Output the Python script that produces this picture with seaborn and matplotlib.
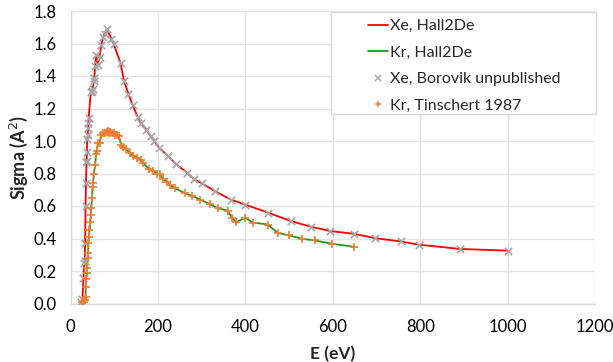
import matplotlib
matplotlib.use("Agg")
import matplotlib.pyplot as plt
from matplotlib.patches import Rectangle
from matplotlib.lines import Line2D
import seaborn as sns
import pandas as pd

# Xenon ionization cross section (Borovik, unpublished), energy in eV, sigma in A^2
xe_energy = [23, 27, 29, 31, 32, 33, 34, 35, 36, 36.5, 37, 38, 39, 40, 40.5, 41,
             46, 48, 50, 53, 54, 56, 58, 62, 66, 70, 74, 78, 83, 93, 98, 114,
             122, 132, 142, 153, 160, 173, 183, 191, 202, 222, 240, 266, 282,
             300, 331, 366, 400, 452, 504, 549, 594, 648, 697, 755, 797, 890, 1002]
xe_sigma = [0.01, 0.03, 0.16, 0.25, 0.26, 0.37, 0.60, 0.74, 0.87, 0.88, 0.93, 1.01,
            1.04, 1.08, 1.11, 1.14, 1.30, 1.31, 1.32, 1.37, 1.39, 1.46, 1.53, 1.47,
            1.52, 1.59, 1.64, 1.66, 1.69, 1.63, 1.60, 1.48, 1.37, 1.29, 1.22, 1.15,
            1.11, 1.07, 1.03, 1.00, 0.96, 0.91, 0.86, 0.805, 0.765, 0.74, 0.69,
            0.64, 0.608, 0.559, 0.507, 0.473, 0.446, 0.429, 0.402, 0.382, 0.362,
            0.336, 0.325]

# Krypton ionization cross section (Tinschert 1987)
kr_energy = [26, 30, 33, 34, 34.5, 35, 36.5, 37, 39, 40, 40.5, 42, 43, 45, 46, 47,
             49, 50, 51, 53, 56, 58, 60, 62, 66, 70, 75, 78, 83, 86, 88, 91, 94,
             98, 102, 105, 110, 116, 120, 127, 136, 142, 151, 160, 165, 179, 188,
             198, 204, 212, 220, 227, 239, 262, 278, 296, 319, 338, 359, 369, 379,
             399, 418, 451, 474, 499, 530, 559, 599, 648]
kr_sigma = [0.01, 0.01, 0.02, 0.04, 0.10, 0.15, 0.19, 0.22, 0.28, 0.31, 0.37, 0.41,
            0.45, 0.50, 0.545, 0.59, 0.65, 0.72, 0.74, 0.80, 0.85, 0.92, 0.94, 0.985,
            0.99, 1.037, 1.047, 1.05, 1.057, 1.06, 1.05, 1.057, 1.047, 1.05, 1.037,
            1.04, 1.03, 0.975, 0.965, 0.949, 0.924, 0.91, 0.897, 0.883, 0.866, 0.828,
            0.817, 0.80, 0.795, 0.766, 0.748, 0.729, 0.709, 0.678, 0.662, 0.64, 0.61,
            0.585, 0.572, 0.528, 0.50, 0.527, 0.498, 0.486, 0.434, 0.42, 0.398,
            0.388, 0.367, 0.349]

x_ticks = [0, 200, 400, 600, 800, 1000, 1200]
y_ticks = [0.0, 0.2, 0.4, 0.6, 0.8, 1.0, 1.2, 1.4, 1.6, 1.8]
legend_labels = ["Xe, Hall2De", "Kr, Hall2De", "Xe, Borovik unpublished", "Kr, Tinschert 1987"]

xe = pd.DataFrame({"E": xe_energy, "sigma": xe_sigma})
kr = pd.DataFrame({"E": kr_energy, "sigma": kr_sigma})

sns.set_theme(style="white")
plt.rcParams["font.family"] = ["Lato", "DejaVu Sans"]

RED = "#ff0000"
GREEN = "#1f9a1f"
GRAY = "#a6a6a6"
ORANGE = "#ed7d31"
GRID = "#e3e3e3"

fig = plt.figure(figsize=(6.13, 3.62), dpi=100)
ax = fig.add_axes([70.7 / 613, 1 - 303.5 / 362, (595 - 70.7) / 613, (303.5 - 11) / 362])

sns.lineplot(data=xe, x="E", y="sigma", ax=ax, color=RED, linewidth=1.3,
             sort=False, estimator=None, zorder=3)
sns.lineplot(data=kr, x="E", y="sigma", ax=ax, color=GREEN, linewidth=1.3,
             sort=False, estimator=None, zorder=3)
sns.scatterplot(data=xe, x="E", y="sigma", ax=ax, marker="x", color=GRAY,
                s=28, linewidth=1.2, zorder=4)
sns.scatterplot(data=kr, x="E", y="sigma", ax=ax, marker="+", color=ORANGE,
                s=36, linewidth=1.2, zorder=5)

ax.set_xlim(0, 1200)
ax.set_ylim(0, 1.8)
ax.set_xticks(x_ticks)
ax.set_yticks(y_ticks)
ax.set_yticklabels([f"{v:.1f}" for v in y_ticks])
ax.tick_params(axis="both", length=0, labelsize=12, colors="#000000")
ax.tick_params(axis="x", pad=11)
ax.tick_params(axis="y", pad=10)
ax.grid(True, color=GRID, linewidth=1.0)
ax.set_axisbelow(True)
for side, spine in ax.spines.items():
    if side in ("left", "bottom"):
        spine.set_color("#d9d9d9")
        spine.set_linewidth(1.0)
    else:
        spine.set_visible(False)

ax.set_xlabel("E (eV)", fontsize=12.5, fontweight="bold", labelpad=8)
ax.set_ylabel("Sigma (A$^2$)", fontsize=13, fontweight="bold", labelpad=3)

# legend box
box = Rectangle((331 / 613, 1 - 114 / 362), (596 - 331) / 613, (114 - 12) / 362,
                transform=fig.transFigure, facecolor="white", edgecolor="#d9d9d9",
                linewidth=1.0, zorder=10)
fig.add_artist(box)
handles = [
    Line2D([], [], color=RED, linewidth=1.3),
    Line2D([], [], color=GREEN, linewidth=1.3),
    Line2D([], [], color=GRAY, marker="x", linestyle="none", markersize=4.5, markeredgewidth=1.1),
    Line2D([], [], color=ORANGE, marker="+", linestyle="none", markersize=5, markeredgewidth=1.1),
]
leg = fig.legend(handles, legend_labels, loc="upper left",
                 bbox_to_anchor=(357 / 613, 1 - 8 / 362), frameon=False,
                 fontsize=11.5, handlelength=1.25, handletextpad=0.12,
                 labelspacing=0.77, borderpad=0.2)
leg.set_zorder(11)

fig.savefig("out.png", dpi=100)
